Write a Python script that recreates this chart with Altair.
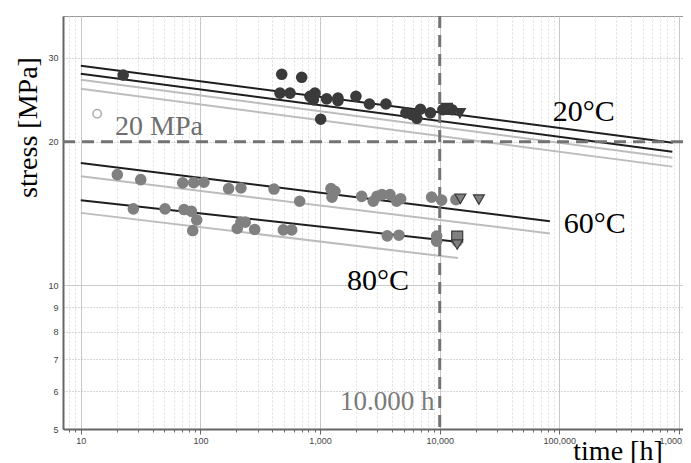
import altair as alt
import pandas as pd

# ---------------- data ----------------
# 20 °C  (dark markers)
t20_hours = [22.6, 478, 702, 462, 561, 823, 906, 878, 1135, 1411, 1411, 1994,
             2586, 3553, 1012, 5220, 5857, 6448, 6900, 8360, 10630, 12650]
t20_stress = [27.6, 27.7, 27.3, 25.3, 25.3, 24.9, 25.3, 24.5, 24.6, 24.7, 24.4, 24.9,
              24.0, 24.0, 22.3, 23.0, 22.8, 22.4, 23.4, 23.0, 23.35, 23.35]
t20_run_hours = [11490, 14750]
t20_run_stress = [23.45, 22.95]
t20_run_kind = ["running", "runout"]

# 60 °C
t60_hours = [20.2, 31.7, 71.1, 87.9, 107, 172, 218, 412, 675, 1233, 1257, 1332,
             2226, 2782, 2988, 3290, 3837, 4364, 4714, 8556, 10370, 13650]
t60_stress = [17.07, 16.66, 16.40, 16.42, 16.45, 15.96, 16.0, 15.92, 15.01, 15.96, 15.31, 15.75,
              15.37, 15.01, 15.37, 15.50, 15.50, 15.01, 15.18, 15.31, 15.09, 15.13]
t60_run_hours = [14890, 21260]
t60_run_stress = [15.18, 15.13]
t60_run_kind = ["runout", "runout"]

# 80 °C
t80_hours = [27.5, 50.6, 72.9, 84.2, 93.1, 86.2, 203, 218, 237, 284, 493, 579,
             3643, 4561, 9422, 9422, 14000]
t80_stress = [14.47, 14.47, 14.42, 14.30, 13.71, 13.03, 13.16, 13.58, 13.57, 13.10, 13.07, 13.07,
              12.70, 12.74, 12.69, 12.38, 12.38]
t80_run_hours = [14000, 14000]
t80_run_stress = [12.66, 12.18]
t80_run_kind = ["running", "runout"]

# marker colours per temperature
temp_colors = {"20": "#3a3a3a", "60": "#808080", "80": "#808080"}

# regression / prediction lines (start, end)
fit_names = ["20a", "20b", "20c", "20d", "60a", "60b", "80a", "80b"]
fit_kind = ["black", "black", "gray", "gray", "black", "gray", "black", "gray"]
fit_h0 = [10, 10, 10, 10, 10, 10, 10, 10]
fit_h1 = [887000, 880000, 880000, 880000, 83400, 83400, 13900, 14200]
fit_s0 = [28.86, 27.77, 26.98, 25.83, 18.06, 16.93, 15.08, 14.19]
fit_s1 = [19.91, 19.07, 18.52, 17.74, 13.63, 12.85, 12.35, 11.41]
fit_colors = {"black": "#1e1e1e", "gray": "#bdbdbd"}

# reference lines
ref_stress = [20]
ref_hours = [10000]

# legend circle
leg_hours = [13.7]
leg_stress = [22.9]

# annotations
annot_text = ["20°C", "60°C", "80°C", "20 MPa", "10.000 h"]
annot_hours = [88260, 109000, 1678, 19.35, 1467]
annot_stress = [23.12, 13.42, 10.19, 21.52, 5.70]
annot_size = [30, 30, 30, 28, 27]
annot_color = ["#000000", "#000000", "#000000", "#6e6e6e", "#7a7a7a"]

# axis ticks
x_major = [10, 100, 1000, 10000, 100000, 1000000]
x_minor_mult = [2, 3, 4, 5, 6, 7, 8, 9]
y_ticks = [5, 6, 7, 8, 9, 10, 20, 30]

# ---------------- tables ----------------
pts = pd.DataFrame({
    "hours": t20_hours + t60_hours + t80_hours,
    "stress": t20_stress + t60_stress + t80_stress,
    "temp": ["20"] * len(t20_hours) + ["60"] * len(t60_hours) + ["80"] * len(t80_hours),
})
pts["col"] = pts["temp"].map(temp_colors)
runs = pd.DataFrame({
    "hours": t20_run_hours + t60_run_hours + t80_run_hours,
    "stress": t20_run_stress + t60_run_stress + t80_run_stress,
    "kind": t20_run_kind + t60_run_kind + t80_run_kind,
    "temp": ["20"] * 2 + ["60"] * 2 + ["80"] * 2,
})
runs["col"] = runs["temp"].map(temp_colors)
fits = pd.DataFrame({
    "hours": fit_h0 + fit_h1,
    "stress": fit_s0 + fit_s1,
    "name": fit_names + fit_names,
    "kind": fit_kind + fit_kind,
})
fits["col"] = fits["kind"].map(fit_colors)
annots = pd.DataFrame({"hours": annot_hours, "stress": annot_stress, "label": annot_text,
                       "fs": annot_size, "col": annot_color})

x_ticks = sorted([v for v in [m * d // 10 for d in x_major for m in x_minor_mult] + x_major
                  if 7.1 <= v <= 1.08e6])

major_test = "indexof([10,100,1000,10000,100000,1000000], datum.value) >= 0"

xs = alt.Scale(type="log", domain=[7.1, 1.08e6], nice=False)
ys = alt.Scale(type="log", domain=[5, 36.7], nice=False)

x_axis = alt.Axis(
    values=x_ticks,
    labelExpr=f"{major_test} ? format(datum.value, ',') : ''",
    labelFont="Liberation Sans", labelFontSize=9, labelColor="#444444",
    labelPadding=2, labelFlush=False, labelOverlap=False,
    tickSize={"condition": {"test": major_test, "value": 5}, "value": 3},
    tickColor="#666666",
    grid=True,
    gridColor={"condition": {"test": major_test, "value": "#c8c8c8"}, "value": "#dedede"},
    gridDash={"condition": {"test": major_test, "value": []}, "value": [2, 2]},
    domainColor="#666666", domainWidth=2,
    title="time [h]", titleFont="Liberation Serif", titleFontSize=28,
    titleFontWeight="normal", titleColor="#000000",
    titleX=554.5, titleY=30, titleAlign="center", titleBaseline="alphabetic",
)
y_axis = alt.Axis(
    values=y_ticks, format="d",
    labelFont="Liberation Sans", labelFontSize=9, labelColor="#444444",
    labelPadding=5, labelFlush=False, labelOverlap=False,
    tickSize=0,
    grid=True,
    gridColor={"condition": {"test": "datum.value == 10", "value": "#cccccc"}, "value": "#b0b0b0"},
    gridDash={"condition": {"test": "datum.value == 10", "value": []}, "value": [1, 2]},
    domainColor="#666666", domainWidth=2,
    title="stress [MPa]", titleFont="Liberation Serif", titleFontSize=28,
    titleFontWeight="normal", titleColor="#000000",
    titleX=-35, titleY=111, titleAngle=270, titleAlign="center", titleBaseline="middle",
)


def X():
    return alt.X("hours:Q", scale=xs, axis=x_axis)


def Y():
    return alt.Y("stress:Q", scale=ys, axis=y_axis)


lines = alt.Chart(fits).mark_line(strokeWidth=2).encode(
    x=X(), y=Y(), detail="name:N",
    color=alt.Color("col:N", scale=None),
)

hrule = alt.Chart(pd.DataFrame({"stress": ref_stress})).mark_rule(
    color="#737373", strokeWidth=3, strokeDash=[12, 7]).encode(y=Y())
vrule = alt.Chart(pd.DataFrame({"hours": ref_hours})).mark_rule(
    color="#737373", strokeWidth=3, strokeDash=[12, 7]).encode(x=X())

circles = alt.Chart(pts).mark_circle(size=135, opacity=1).encode(
    x=X(), y=Y(), color=alt.Color("col:N", scale=None))

specials = alt.Chart(runs).mark_point(filled=True, size=120, opacity=1, stroke="#3a3a3a",
                                       strokeWidth=1.2).encode(
    x=X(), y=Y(),
    fill=alt.Fill("col:N", scale=None),
    shape=alt.Shape("kind:N", scale=alt.Scale(domain=["running", "runout"],
                                              range=["square", "triangle-down"]), legend=None),
)

legend_pt = alt.Chart(pd.DataFrame({"hours": leg_hours, "stress": leg_stress})).mark_point(
    size=70, color="#8a8a8a", strokeWidth=1.5, filled=False).encode(x=X(), y=Y())

texts = alt.Chart(annots).mark_text(font="Liberation Serif", align="left", baseline="middle").encode(
    x=X(), y=Y(), text="label:N",
    size=alt.Size("fs:Q", scale=None),
    color=alt.Color("col:N", scale=None),
)

chart = alt.layer(lines, hrule, vrule, circles, specials, legend_pt, texts).properties(
    width=620, height=413,
    autosize=alt.AutoSizeParams(type="none"),
    padding={"left": 55, "top": 8, "right": 0, "bottom": 34},
).configure_view(stroke="#999999", strokeWidth=1)

chart.save("out.html", embed_options={"renderer": "svg", "actions": False})
